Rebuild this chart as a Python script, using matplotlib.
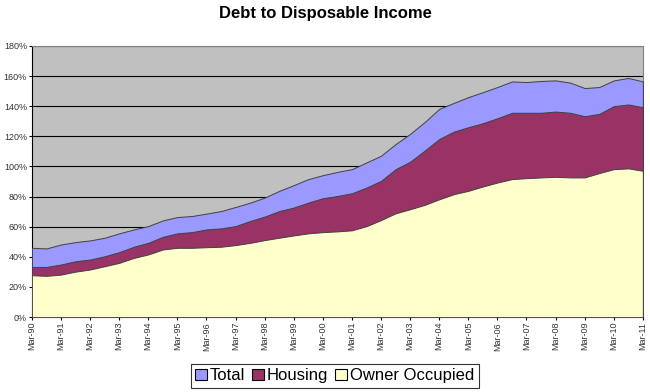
import matplotlib.pyplot as plt
import matplotlib.dates as mdates
from matplotlib.patches import Patch
import pandas as pd

plt.rcParams['font.family'] = ['Liberation Sans', 'DejaVu Sans']

# Semi-annual observations, Mar-90 .. Mar-11 (ratio of debt to disposable income, %)
dates = pd.date_range('1990-03-01', '2011-03-01', freq='6MS')

total = [46, 45.6, 48.2, 49.8, 50.9, 52.7, 55.6, 58.2, 60.4, 64.2,
         66.4, 67.1, 68.7, 70.4, 73.1, 76.0, 79.3, 83.8, 87.6, 91.6,
         94.2, 96.4, 98.2, 102.7, 107.1, 114.9, 121.6, 129.5, 138.2, 142.2,
         146.0, 149.3, 152.7, 156.4, 156.0, 156.7, 157.1, 155.6, 152.0, 152.7,
         157.1, 158.7, 156.4]
housing = [33.3, 33.3, 34.9, 37.1, 38.2, 40.4, 43.1, 46.7, 49.3, 53.3,
           55.6, 56.4, 58.2, 58.9, 60.4, 63.8, 66.7, 70.4, 72.7, 76.0,
           78.9, 80.4, 82.2, 86.0, 90.4, 98.2, 103.1, 110.5, 118.2, 123.1,
           126.0, 128.7, 132.0, 135.6, 135.6, 135.6, 136.4, 135.6, 133.3, 134.9,
           140.0, 141.1, 139.3]
owner = [27.8, 27.4, 28.2, 30.2, 31.6, 33.8, 36.0, 39.3, 41.6, 44.9,
         46.0, 46.0, 46.4, 46.7, 47.8, 49.3, 51.1, 52.7, 54.2, 55.6,
         56.4, 56.9, 57.6, 60.4, 64.4, 68.9, 71.6, 74.5, 78.2, 81.6,
         83.8, 86.7, 89.3, 91.6, 92.2, 92.7, 93.1, 92.7, 92.7, 95.6,
         98.2, 98.7, 97.1]

series = [('Total', total, '#9999FF'),
          ('Housing', housing, '#993366'),
          ('Owner Occupied', owner, '#FFFFCC')]

fig = plt.figure(figsize=(6.5, 3.92), dpi=100)
ax = fig.add_axes([0.049, 0.191, 0.940, 0.692])
ax.set_facecolor('#C0C0C0')

for name, vals, color in series:
    ax.fill_between(dates, 0, vals, facecolor=color, edgecolor='#404040',
                    linewidth=0.7, zorder=3)

ax.set_ylim(0, 180)
ax.set_yticks(range(0, 181, 20))
ax.set_yticklabels(['%d%%' % v for v in range(0, 181, 20)])
ax.yaxis.grid(True, color='black', linewidth=0.8, zorder=1)
ax.set_axisbelow(True)

ax.set_xlim(dates[0], dates[-1])
year_ticks = pd.date_range('1990-03-01', '2011-03-01', freq='12MS')
ax.set_xticks(year_ticks)
ax.xaxis.set_major_formatter(mdates.DateFormatter('%b-%y'))
plt.setp(ax.get_xticklabels(), rotation=90)

ax.tick_params(axis='both', labelsize=6.5, colors='black', length=2, width=0.8,
               pad=1.5, labelcolor='#333333')
for side in ['top', 'right']:
    ax.spines[side].set_color('#808080')
for side in ['left', 'bottom']:
    ax.spines[side].set_color('black')

fig.text(0.5, 0.965, 'Debt to Disposable Income', ha='center', va='center',
         fontsize=12, fontweight='bold')

handles = [Patch(facecolor=c, edgecolor='black', linewidth=0.8, label=n)
           for n, v, c in series]
leg = fig.legend(handles=handles, loc='center', bbox_to_anchor=(0.515, 0.041),
                 ncol=3, fontsize=12, frameon=True, fancybox=False,
                 handlelength=0.7, handleheight=0.7, handletextpad=0.2,
                 columnspacing=0.4, borderpad=0.25, borderaxespad=0)
leg.get_frame().set_edgecolor('black')
leg.get_frame().set_linewidth(0.8)

fig.savefig('out.png', dpi=100)
